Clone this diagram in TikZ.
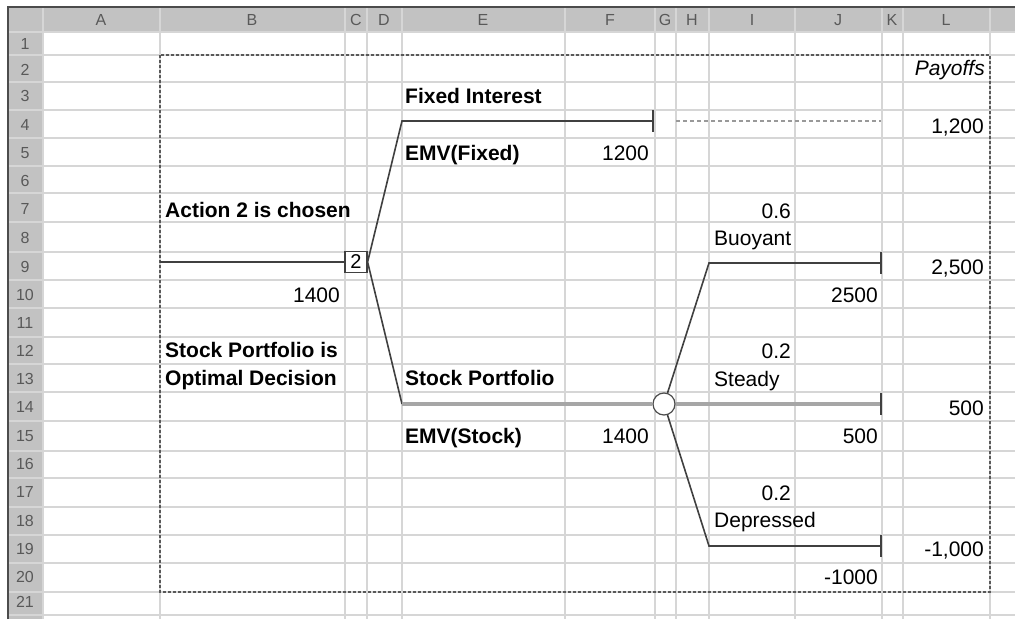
\documentclass[tikz,border=0pt]{standalone}
\usepackage{fontspec}
\setmainfont{Liberation Sans}

\begin{document}
\begin{tikzpicture}[x=1pt, y=-1pt,
  cell/.style={inner sep=0pt, font=\fontsize{21}{24}\selectfont},
  lbl/.style={cell, font=\fontsize{21}{24}\selectfont\bfseries},
  hdr/.style={inner sep=0pt, text=black!65, font=\fontsize{16}{18}\selectfont},
  gridln/.style={line width=1.2pt, draw=black!16},
  branch/.style={line width=1.6pt, draw=black!75},
  best/.style={line width=4.5pt, draw=black!35},
  endtick/.style={line width=1.6pt, draw=black!75}]
  \useasboundingbox (0,0) rectangle (1015,619);
  % Sheet background
  \fill[white] (0,0) rectangle (1015,619);
  \fill[black!24] (8,7) rectangle (1015,32);
  \fill[black!24] (8,7) rectangle (43,619);
  \foreach \x in {43,160,345,367,402,565,655,676,709,795,882,903,990}
    \draw[gridln] (\x,7) -- (\x,619);
  \foreach \y in {32,55,82,110,138,166,193,222,252,280,308,337,364,392,421,451,478,507,535,563,592,615}
    \draw[gridln] (8,\y) -- (1015,\y);
  \draw[black!70, line width=2pt] (8,619) -- (8,7) -- (1015,7);
  % Column letters and row numbers
  \foreach \c/\x in {A/101,B/252,C/356,D/384,E/483,F/610,G/665,H/692,I/752,J/838,K/892,L/946}
    \node[hdr] (col-\c) at (\x,20) {\c};
  \foreach \y [count=\r] in {44,70,96,125,153,181,209,238,267,295,323,351,379,407,436,464,492,521,549,577,602}
    \node[hdr] (row-\r) at (25,\y) {\r};
  % Print area
  \draw[black!65, line width=1.2pt, dash pattern=on 3pt off 2pt] (160,55) rectangle (990,592);

  % Decision node
  \coordinate (root) at (160,262);
  \node[draw=black!75, line width=1.2pt, fill=white, minimum width=22pt, minimum height=21pt,
        inner sep=0pt, font=\fontsize{20}{24}\selectfont] (dec) at (356,262) {2};
  \draw[branch] (root) -- (dec);
  % Fixed interest branch
  \coordinate (fixA) at (402,121);
  \coordinate (fixB) at (653,121);
  \coordinate (fixC) at (676,121);
  \coordinate (fixD) at (881,121);
  \draw[branch] (dec.east) -- (fixA) -- (fixB);
  \draw[black!40, line width=1.2pt, dash pattern=on 4pt off 3pt] (fixC) -- (fixD);
  % Stock portfolio branch
  \coordinate (stkA) at (402,404);
  \node[circle, draw=black!70, line width=1.2pt, fill=white, minimum size=22pt, inner sep=0pt] (chance) at (664,404) {};
  \draw[branch] (dec.east) -- (stkA);
  \draw[best] (stkA) -- (chance.west);
  % Chance outcomes
  \coordinate (buoA) at (709,263);
  \coordinate (buoB) at (881,263);
  \coordinate (stdB) at (881,404);
  \coordinate (depA) at (709,546);
  \coordinate (depB) at (881,546);
  \draw[branch] (chance) -- (buoA) -- (buoB);
  \draw[best] (chance.east) -- (stdB);
  \draw[branch] (chance) -- (depA) -- (depB);
  \foreach \e in {fixB,buoB,stdB,depB}
    \draw[endtick] (\e) ++(0,-11) -- ++(0,22);

  % Labels
  \node[lbl, anchor=base west] (fixlbl) at (405,103) {Fixed Interest};
  \node[lbl, anchor=base west] (fixemv) at (405,160) {EMV(Fixed)};
  \node[cell, anchor=base east] (fixval) at (649,160) {1200};
  \node[lbl, anchor=base west] (act) at (165,217) {Action 2 is chosen};
  \node[cell, anchor=base east] (rootval) at (340,302) {1400};
  \node[lbl, anchor=base west] (opt1) at (165,357) {Stock Portfolio is};
  \node[lbl, anchor=base west] (opt2) at (165,385) {Optimal Decision};
  \node[lbl, anchor=base west] (stklbl) at (405,385) {Stock Portfolio};
  \node[lbl, anchor=base west] (stkemv) at (405,443) {EMV(Stock)};
  \node[cell, anchor=base east] (stkval) at (649,443) {1400};
  \node[cell, anchor=base east] (pbuo) at (791,218) {0.6};
  \node[cell, anchor=base west] (buo) at (714,245) {Buoyant};
  \node[cell, anchor=base east] (vbuo) at (878,302) {2500};
  \node[cell, anchor=base east] (pstd) at (791,358) {0.2};
  \node[cell, anchor=base west] (std) at (714,386) {Steady};
  \node[cell, anchor=base east] (vstd) at (878,443) {500};
  \node[cell, anchor=base east] (pdep) at (791,500) {0.2};
  \node[cell, anchor=base west] (dep) at (714,527) {Depressed};
  \node[cell, anchor=base east] (vdep) at (878,584) {-1000};
  % Payoffs column
  \node[cell, anchor=base east, font=\fontsize{21}{24}\selectfont\itshape] (pay) at (985,75) {Payoffs};
  \node[cell, anchor=base east] (pay1) at (984,133) {1,200};
  \node[cell, anchor=base east] (pay2) at (984,274) {2,500};
  \node[cell, anchor=base east] (pay3) at (984,415) {500};
  \node[cell, anchor=base east] (pay4) at (984,556) {-1,000};
\end{tikzpicture}
\end{document}
